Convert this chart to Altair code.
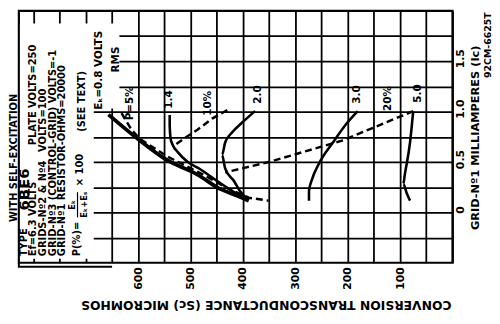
import altair as alt
import pandas as pd

FONT = "DejaVu Sans"

# ---------------- data ----------------
# Conversion transconductance Sc (micromhos) vs grid-No.1 current Ic (mA)
ek08_sc = [657, 600, 549, 487, 443, 411, 389]
ek08_ic = [0.97, 0.725, 0.53, 0.375, 0.23, 0.165, 0.115]

ek14_sc = [540, 540, 538, 534, 525, 506, 481, 449, 421, 396]
ek14_ic = [0.966, 0.86, 0.725, 0.667, 0.60, 0.502, 0.425, 0.31, 0.213, 0.135]

ek20_sc = [377, 402, 421, 434, 440, 434, 417, 406, 392]
ek20_ic = [1.005, 0.889, 0.792, 0.696, 0.57, 0.435, 0.309, 0.213, 0.135]

ek30_sc = [181, 204, 228, 255, 268, 274, 274]
ek30_ic = [1.005, 0.87, 0.696, 0.483, 0.33, 0.213, 0.116]

ek50_sc = [75, 81, 91, 94, 87, 81]
ek50_ic = [1.005, 0.696, 0.377, 0.28, 0.184, 0.116]

p05_sc = [632, 613, 596, 543, 477, 430, 389, 351]
p05_ic = [0.985, 0.82, 0.725, 0.55, 0.377, 0.24, 0.145, 0.116]

p10_sc = [430, 459, 487, 509, 528]
p10_ic = [1.015, 0.93, 0.82, 0.745, 0.676]

p20_sc = [75, 209, 349, 434]
p20_ic = [1.005, 0.715, 0.502, 0.396]

# curve labels
curve_labels = ["Eₖ=0.8 VOLTS", "RMS", "P=5%", "1.4", "10%", "2.0", "3.0", "20%", "5.0"]
curve_label_sc = [674, 642, 615, 542, 466, 372, 183, 123, 66]
curve_label_ic = [1.41, 1.517, 1.082, 1.12, 1.082, 1.169, 1.169, 1.13, 1.179]

# text block (conditions), read bottom-to-top
info_text = ["WITH SELF-EXCITATION", "TYPE", "Ef=6.3 VOLTS", "PLATE VOLTS=250",
             "GRIDS-Nº2 & Nº4", "VOLTS=100", "GRID-Nº3 (CONTROL-GRID) VOLTS=-1",
             "GRID-Nº1 RESISTOR-OHMS=20000", "P(%)=", "× 100", "(SEE TEXT)"]
info_sc = [838, 819, 801, 801, 782, 782, 763, 745, 717, 711, 707]
info_ic = [-0.097, -0.435, -0.435, 0.667, -0.435, 0.60, -0.435, -0.435, -0.435, 0.26, 0.80]

type_name = ["6BE6"]
type_sc = [819]
type_ic = [0.019]

frac_text = ["Eₖ", "Eₖ+Eₛ"]
frac_sc = [727, 704]
frac_ic = [0.075, 0.075]
frac_bar_sc = [716]
frac_bar_ic = [-0.05]
frac_bar_ic2 = [0.20]

# blank panel behind the text block (grid interrupted there)
panel_sc = [826, 685]
panel_sc2 = [685, 636]
panel_ic = [-0.46, 1.03]
panel_ic2 = [1.874, 1.874]

# lower border of the text block
border_sc = [650, 828, 828]
border_ic = [-0.541, -0.541, -0.5]

x_grid = list(range(0, 801, 50))
y_grid = [-0.25, 0, 0.25, 0.5, 0.75, 1.0, 1.25, 1.5, 1.75]
x_labels = [100, 200, 300, 400, 500, 600]

# ---------------- frames ----------------
def curve_df(name, sc, ic):
    return pd.DataFrame({"curve": name, "sc": sc, "ic": ic, "k": list(range(len(sc)))})

thin_df = pd.concat([curve_df("1.4", ek14_sc, ek14_ic),
                     curve_df("2.0", ek20_sc, ek20_ic),
                     curve_df("3.0", ek30_sc, ek30_ic),
                     curve_df("5.0", ek50_sc, ek50_ic)])
thick_df = curve_df("0.8", ek08_sc, ek08_ic)
dash_df = pd.concat([curve_df("5%", p05_sc, p05_ic),
                     curve_df("10%", p10_sc, p10_ic),
                     curve_df("20%", p20_sc, p20_ic)])
lab_df = pd.DataFrame({"t": curve_labels, "sc": curve_label_sc, "ic": curve_label_ic})
info_df = pd.DataFrame({"t": info_text, "sc": info_sc, "ic": info_ic})
type_df = pd.DataFrame({"t": type_name, "sc": type_sc, "ic": type_ic})
frac_df = pd.DataFrame({"t": frac_text, "sc": frac_sc, "ic": frac_ic})
bar_df = pd.DataFrame({"sc": frac_bar_sc, "ic": frac_bar_ic, "ic2": frac_bar_ic2})
panel_df = pd.DataFrame({"sc": panel_sc, "sc2": panel_sc2, "ic": panel_ic, "ic2": panel_ic2})
border_df = pd.DataFrame({"sc": border_sc, "ic": border_ic, "k": [0, 1, 2]})
code_df = pd.DataFrame({"t": ["92CM-6625T"]})

# ---------------- scales / axes ----------------
xs = alt.Scale(domain=[0, 828], reverse=True, nice=False, zero=False)
ys = alt.Scale(domain=[-0.5, 2.0], nice=False, zero=False)

x_label_expr = "indexof(" + str(x_labels) + ", datum.value) >= 0 ? datum.label : ''"
x_axis = alt.Axis(
    values=x_grid, grid=True, gridColor="black", gridWidth=1.8, gridOpacity=1,
    ticks=False, domain=False, labelExpr=x_label_expr, labelAngle=270,
    labelAlign="right", labelBaseline="middle", labelPadding=4,
    labelFont=FONT, labelFontSize=11, labelFontWeight="bold", labelColor="black",
    labelOverlap=False, labelFlush=False,
    title="CONVERSION TRANSCONDUCTANCE (Sc) MICROMHOS", titleAngle=180,
    titleFont=FONT, titleFontSize=12.5, titleFontWeight="bold", titleColor="black",
    titleX=250, titleY=42, titleAlign="center", titleBaseline="middle",
)
y_axis = alt.Axis(
    values=y_grid, orient="right", grid=True, gridColor="black", gridWidth=1.8,
    gridOpacity=1, ticks=False, domain=False,
    labelExpr="datum.value == 0 ? '0' : (datum.value == 0.5 || datum.value == 1 || datum.value == 1.5) ? format(datum.value, '.1f') : ''",
    labelAngle=270, labelAlign="center", labelBaseline="top", labelPadding=2,
    labelOffset=-3, labelFont=FONT, labelFontSize=11, labelFontWeight="bold",
    labelColor="black", labelOverlap=False, labelFlush=False,
    title="GRID-Nº1 MILLIAMPERES (Ic)", titleAngle=270, titleFont=FONT,
    titleFontSize=11.5, titleFontWeight="bold", titleColor="black",
    titleX=23, titleY=128, titleAlign="center", titleBaseline="middle",
)
X = alt.X("sc:Q", scale=xs, axis=x_axis)
Y = alt.Y("ic:Q", scale=ys, axis=y_axis)

# ---------------- layers ----------------
panel = alt.Chart(panel_df).mark_rect(color="white").encode(
    x=X, x2="sc2:Q", y=Y, y2="ic2:Q")
border = alt.Chart(border_df).mark_line(color="black", strokeWidth=2).encode(
    x=X, y=Y, order="k:Q")
thin = alt.Chart(thin_df).mark_line(color="black", strokeWidth=2.6,
                                    interpolate="monotone").encode(
    x=X, y=Y, detail="curve:N", order="k:Q")
thick = alt.Chart(thick_df).mark_line(color="black", strokeWidth=3.8,
                                      interpolate="monotone").encode(
    x=X, y=Y, order="k:Q")
dashed = alt.Chart(dash_df).mark_line(color="black", strokeWidth=2.5,
                                      strokeDash=[7, 4]).encode(
    x=X, y=Y, detail="curve:N", order="k:Q")
labels = alt.Chart(lab_df).mark_text(angle=270, align="center", baseline="middle",
                                     font=FONT, fontWeight="bold", fontSize=10.5,
                                     color="black").encode(x=X, y=Y, text="t:N")
info = alt.Chart(info_df).mark_text(angle=270, align="left", baseline="middle",
                                    font=FONT, fontWeight="bold", fontSize=10,
                                    color="black").encode(x=X, y=Y, text="t:N")
tname = alt.Chart(type_df).mark_text(angle=270, align="left", baseline="middle",
                                     font=FONT, fontWeight="bold", fontSize=15,
                                     color="black").encode(x=X, y=Y, text="t:N")
frac = alt.Chart(frac_df).mark_text(angle=270, align="center", baseline="middle",
                                    font=FONT, fontWeight="bold", fontSize=8.5,
                                    color="black").encode(x=X, y=Y, text="t:N")
bar = alt.Chart(bar_df).mark_rule(color="black", strokeWidth=1.2).encode(
    x=X, y=Y, y2="ic2:Q")
code = alt.Chart(code_df).mark_text(angle=270, align="left", baseline="middle",
                                    font=FONT, fontWeight="bold", fontSize=9.5,
                                    color="black").encode(
    x=alt.value(475), y=alt.value(68), text="t:N")

chart = alt.layer(panel, border, thin, thick, dashed, labels, info, tname, frac,
                  bar, code).properties(
    width=439, height=255,
    autosize=alt.AutoSizeParams(type="none"),
    padding={"left": 11, "top": 1, "right": 40, "bottom": 47},
    background="white",
).configure_view(stroke="black", strokeWidth=2.2)

chart.save("out.html", embed_options={"renderer": "svg", "actions": False})
